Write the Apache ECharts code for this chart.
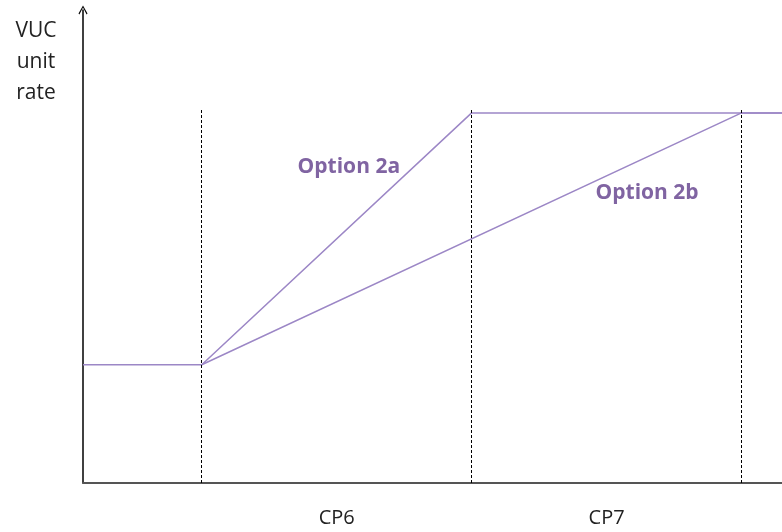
<!DOCTYPE html>
<html><head><meta charset="utf-8">
<script src="https://cdn.jsdelivr.net/npm/echarts@6/dist/echarts.min.js"></script>
<style>html,body{margin:0;padding:0;background:#fff}#c{width:782px;height:532px}</style>
</head><body><div id="c"></div>
<script>
// Period boundaries (x units): start of CP6 = 1, start of CP7 = 2, end of CP7 = 3
const periodBounds = [1, 2, 3];
const periodLabels = ['CP6', 'CP7'];
const periodCenters = [1.5, 2.5];
const xMin = 0.56, xMax = 3.15;
const baseLine = [[0.56, 1], [1, 1]];
const option2a = [[1, 1], [2, 3.13], [3.15, 3.13]];
const option2b = [[1, 1], [3, 3.13], [3.15, 3.13]];
const seriesNames = ['Option 2a', 'Option 2b'];
const labelPos = [[1.545, 2.67], [2.65, 2.45]];
const dashTop = 3.16;

const lineColor = '#9c87c6';
const textColor = '#8064a2';
const chart = echarts.init(document.getElementById('c'));
chart.setOption({
  animation: false,
  grid: {left: 83, right: 0, top: 10, bottom: 49},
  xAxis: {
    type: 'value', min: xMin, max: xMax,
    splitLine: {show: false}, axisTick: {show: false},
    axisLine: {show: true, lineStyle: {color: '#555', width: 2}},
    axisLabel: {
      customValues: periodCenters,
      formatter: v => periodLabels[periodCenters.indexOf(Math.round(v*10)/10)] || '',
      margin: 25, fontSize: 20, color: '#222', fontFamily: 'Open Sans'
    }
  },
  yAxis: {
    type: 'value', min: 0, max: 4,
    splitLine: {show: false}, axisTick: {show: false}, axisLabel: {show: false},
    axisLine: {show: true, symbol: ['none', 'path://M0,9 L5,0 L10,9 L9,10 L5,2.2 L1,10 Z'], symbolSize: [9, 10], symbolOffset: [0, 0],
      lineStyle: {color: '#000', width: 1.5}}
  },
  graphic: [{
    type: 'text', x: 36, y: 16,
    style: {text: 'VUC\nunit\nrate', fontSize: 21, lineHeight: 31, fill: '#222', fontFamily: 'Open Sans', align: 'center', verticalAlign: 'top'}
  }],
  series: [
    {type: 'line', data: baseLine, symbol: 'none', lineStyle: {color: lineColor, width: 1.5},
      markLine: {symbol: 'none', silent: true, label: {show: false},
        lineStyle: {color: '#000', type: [3, 2], width: 1},
        data: periodBounds.map(b => [{coord: [b, 0]}, {coord: [b, dashTop]}])}},
    {type: 'line', name: seriesNames[0], data: option2a, symbol: 'none', lineStyle: {color: lineColor, width: 1.5},
      markPoint: {symbol: 'circle', symbolSize: 0, data: [{coord: labelPos[0]}],
        label: {show: true, position: 'inside', formatter: seriesNames[0], color: textColor, fontWeight: 'bold', fontSize: 21, fontFamily: 'Open Sans'}}},
    {type: 'line', name: seriesNames[1], data: option2b, symbol: 'none', lineStyle: {color: lineColor, width: 1.5},
      markPoint: {symbol: 'circle', symbolSize: 0, data: [{coord: labelPos[1]}],
        label: {show: true, position: 'inside', formatter: seriesNames[1], color: textColor, fontWeight: 'bold', fontSize: 21, fontFamily: 'Open Sans'}}}
  ]
});
</script></body></html>
